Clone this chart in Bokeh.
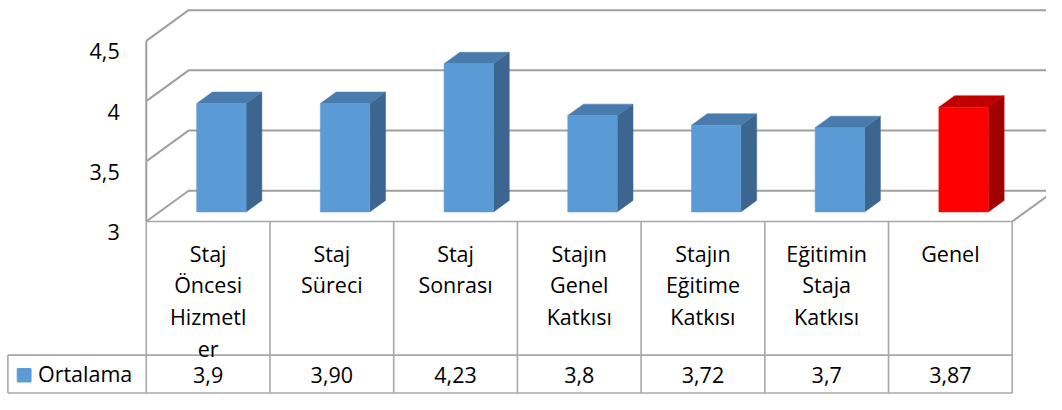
from bokeh.plotting import figure
from bokeh.models import Range1d
from bokeh.embed import file_html
from bokeh.resources import INLINE
from bokeh.core.properties import value

# ---------------- data ----------------
categories = ["Staj Öncesi Hizmetler", "Staj Süreci", "Staj Sonrası",
              "Stajın Genel Katkısı", "Stajın Eğitime Katkısı",
              "Eğitimin Staja Katkısı", "Genel"]
category_lines = [["Staj", "Öncesi", "Hizmetl", "er"], ["Staj", "Süreci"],
                  ["Staj", "Sonrası"], ["Stajın", "Genel", "Katkısı"],
                  ["Stajın", "Eğitime", "Katkısı"], ["Eğitimin", "Staja", "Katkısı"],
                  ["Genel"]]
series_name = "Ortalama"
ortalama = [3.9, 3.90, 4.23, 3.8, 3.72, 3.7, 3.87]
ortalama_labels = ["3,9", "3,90", "4,23", "3,8", "3,72", "3,7", "3,87"]
y_ticks = [3, 3.5, 4, 4.5]
y_tick_labels = ["3", "3,5", "4", "4,5"]

# ---------------- geometry / style ----------------
W, H = 1046, 394                   # canvas size
REF_W, REF_H = 1062, 410           # layout designed in these units
PX_U, PX_V = 125.6, 125.3          # layout px per category / per value unit
ORG_X, ORG_Y = 148.0, 230.0        # layout position of (0, 3)
V0 = y_ticks[0]


def X(px):
    return (px - ORG_X) / PX_U


def Y(py):
    return V0 - (py - ORG_Y) / PX_V


N = len(categories)
DU, DV = 43 / PX_U, 32 / PX_V      # depth offset of the 3-D box
T1, T2 = 0.3125, 0.685             # bar front / back depth
BW = 0.4
FONT = value("Open Sans")
FS = "21.5px"
GRID = "#a0a0a0"
TABLE = "#a8a8a8"

BLUE = ("#5b9bd5", "#4a7bad", "#3c6690")
RED = ("#ff0000", "#c00000", "#a00000")

p = figure(width=W, height=H, x_range=Range1d(X(0), X(REF_W)),
           y_range=Range1d(Y(REF_H), Y(0)), output_backend="svg",
           toolbar_location=None, x_axis_location=None, y_axis_location=None,
           min_border=0, outline_line_color=None)
p.grid.visible = False
p.background_fill_color = "white"
p.border_fill_color = "white"

# ---- walls & gridlines ----
gx, gy = [], []
for v in y_ticks:
    gx.append([0, DU, N + DU + 1])
    gy.append([v, v + DV, v + DV])
gx.append([0, 0]); gy.append([V0, y_ticks[-1]])          # front left edge
gx.append([N, N + DU]); gy.append([V0, V0 + DV])          # floor right edge
p.multi_line(gx, gy, line_color=GRID, line_width=2)

# ---- bars ----
fx0, fx1, fy0, fy1, fcol = [], [], [], [], []
txs, tys, tcol, sxs, sys_, scol = [], [], [], [], [], []
ddx, ddy = DU * (T2 - T1), DV * (T2 - T1)
for i, val in enumerate(ortalama):
    pal = RED if i == N - 1 else BLUE
    xl = i + 0.5 - BW / 2 + DU * T1
    xr = xl + BW
    b = V0 + DV * T1
    t = val + DV * T1
    fx0.append(xl); fx1.append(xr); fy0.append(b); fy1.append(t); fcol.append(pal[0])
    txs.append([xl, xr, xr + ddx, xl + ddx]); tys.append([t, t, t + ddy, t + ddy]); tcol.append(pal[1])
    sxs.append([xr, xr + ddx, xr + ddx, xr]); sys_.append([b, b + ddy, t + ddy, t]); scol.append(pal[2])

p.patches(xs=sxs, ys=sys_, fill_color=scol, line_color=scol, line_width=0.5)
p.patches(xs=txs, ys=tys, fill_color=tcol, line_color=tcol, line_width=0.5)
p.quad(left=fx0, right=fx1, bottom=fy0, top=fy1, fill_color=fcol, line_color=fcol, line_width=0.5)

# ---- data table ----
bottom = Y(408.5)
lx, ly = [], []
for k in range(N + 1):
    lx.append([k, k]); ly.append([V0, bottom])
lx.append([0, N]); ly.append([V0, V0])
lx.append([X(7.5), N]); ly.append([Y(369), Y(369)])
lx.append([X(7.5), N]); ly.append([bottom, bottom])
lx.append([X(7.5), X(7.5)]); ly.append([Y(369), bottom])
p.multi_line(lx, ly, line_color=TABLE, line_width=1.6)

# category labels
cx, cy, ct = [], [], []
for i, lines in enumerate(category_lines):
    for k, s in enumerate(lines):
        cx.append(i + 0.5); cy.append(Y(263 + 33 * k)); ct.append(s)
p.text(x=cx, y=cy, text=ct, text_font=FONT, text_font_size=FS,
       text_align="center", text_baseline="alphabetic", text_color="#000000")

# values row
p.text(x=[i + 0.5 for i in range(N)], y=[Y(389.5)] * N, text=ortalama_labels,
       text_font=FONT, text_font_size=FS, text_align="center",
       text_baseline="middle", text_color="#000000")

# legend key
p.quad(left=[X(17)], right=[X(31)], top=[Y(383)], bottom=[Y(397)],
       fill_color=BLUE[0], line_color=BLUE[0])
p.text(x=[X(38)], y=[Y(388)], text=[series_name], text_font=FONT,
       text_font_size=FS, text_align="left", text_baseline="middle",
       text_color="#000000")

# y tick labels
p.text(x=[X(121)] * len(y_ticks), y=[v - 11 / PX_V for v in y_ticks],
       text=y_tick_labels, text_font=FONT, text_font_size=FS,
       text_align="right", text_baseline="alphabetic", text_color="#000000")

open("out.html", "w").write(file_html(p, INLINE))
